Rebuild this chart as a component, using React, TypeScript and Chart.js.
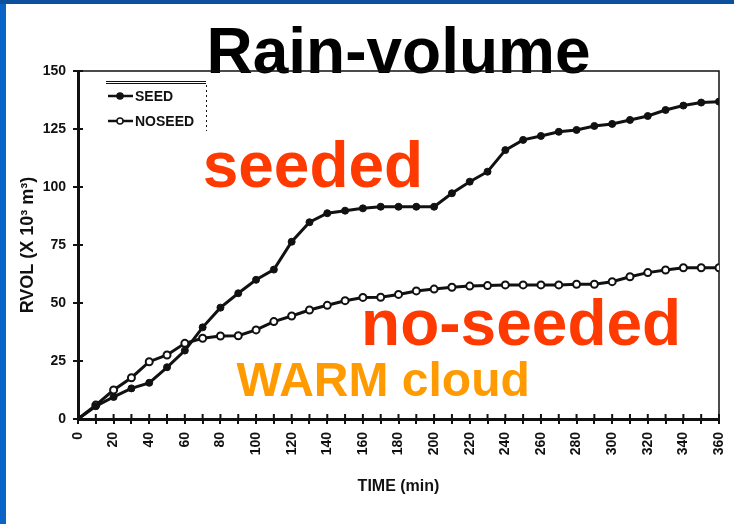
import React, { useEffect, useRef } from 'react';
import { Chart, registerables } from 'chart.js';

Chart.register(...registerables);

// ---- data ----
const TIMES = [0, 10, 20, 30, 40, 50, 60, 70, 80, 90, 100, 110, 120, 130, 140, 150, 160, 170, 180, 190, 200, 210, 220, 230, 240, 250, 260, 270, 280, 290, 300, 310, 320, 330, 340, 350, 360];
const SEED = [0, 5.5, 9.5, 13.2, 15.6, 22.3, 29.5, 39.5, 48, 54.2, 60, 64.4, 76.4, 84.8, 88.7, 89.8, 90.8, 91.5, 91.5, 91.5, 91.5, 97.3, 102.3, 106.6, 115.9, 120.3, 122, 123.8, 124.6, 126.3, 127.2, 128.9, 130.6, 133.2, 135.1, 136.4, 136.8];
const NOSEED = [0, 6, 12.5, 17.8, 24.7, 27.6, 32.6, 34.8, 35.8, 35.9, 38.4, 42, 44.4, 47, 49, 51, 52.4, 52.5, 53.7, 55.2, 56, 56.8, 57.3, 57.5, 57.8, 57.8, 57.8, 57.8, 58.1, 58.1, 59.2, 61.3, 63.1, 64.2, 65.2, 65.2, 65.2];
const SERIES_LABELS = ['SEED', 'NOSEED'];
const X_MIN = 0;
const X_MAX = 360;
const X_TICK_STEP = 10;
const X_LABEL_STEP = 20;
const Y_MIN = 0;
const Y_MAX = 150;
const Y_TICK_STEP = 25;
const TITLE = 'Rain-volume';
const X_TITLE = 'TIME (min)';
const Y_TITLE = 'RVOL (X 10³ m³)';
const NOTES = [
  { text: 'seeded', x: 70, y: 100, color: '#ff3a00', size: 64 },
  { text: 'no-seeded', x: 159, y: 32, color: '#ff3a00', size: 64 },
  { text: 'WARM cloud', x: 89, y: 10, color: '#ff9a00', size: 48 },
];

const FONT = '"Liberation Sans", Arial, Helvetica, sans-serif';
const INK = '#111111';

const decorPlugin = {
  id: 'decor',
  beforeDraw(chart: any) {
    const { ctx, width, height } = chart;
    ctx.save();
    ctx.fillStyle = '#ffffff';
    ctx.fillRect(0, 0, width, height);
    ctx.fillStyle = '#0c4f9c';
    ctx.fillRect(0, 0, width, 4);
    ctx.fillStyle = '#0a64c8';
    ctx.fillRect(0, 4, 6, height - 4);
    ctx.restore();
  },
  beforeDatasetsDraw(chart: any) {
    const { ctx, chartArea: a, scales } = chart;
    ctx.save();
    ctx.strokeStyle = INK;
    ctx.lineWidth = 1.5;
    ctx.beginPath();
    ctx.moveTo(a.left, a.top);
    ctx.lineTo(a.right, a.top);
    ctx.lineTo(a.right, a.bottom);
    ctx.stroke();
    // inner halves of the cross ticks
    ctx.lineWidth = 2;
    const xs = scales.x;
    const ys = scales.y;
    ctx.beginPath();
    xs.ticks.forEach((t: any) => {
      const px = xs.getPixelForValue(t.value);
      ctx.moveTo(px, a.bottom);
      ctx.lineTo(px, a.bottom - 5);
    });
    ys.ticks.forEach((t: any) => {
      const py = ys.getPixelForValue(t.value);
      ctx.moveTo(a.left, py);
      ctx.lineTo(a.left + 5, py);
    });
    ctx.stroke();
    ctx.restore();
  },
  afterDraw(chart: any) {
    const { ctx, chartArea: a, scales } = chart;
    ctx.save();
    // legend
    const lx = Math.round(a.left + 28);
    const ly = Math.round(a.top + 10);
    ctx.strokeStyle = INK;
    ctx.lineWidth = 1;
    ctx.beginPath();
    ctx.moveTo(lx, ly + 0.5);
    ctx.lineTo(lx + 100, ly + 0.5);
    ctx.moveTo(lx, ly + 2.5);
    ctx.lineTo(lx + 100, ly + 2.5);
    ctx.stroke();
    ctx.setLineDash([2, 3]);
    ctx.beginPath();
    ctx.moveTo(lx + 100.5, ly + 4);
    ctx.lineTo(lx + 100.5, ly + 50);
    ctx.stroke();
    ctx.setLineDash([]);
    chart.data.datasets.forEach((ds: any, i: number) => {
      const y = ly + 15 + i * 25;
      ctx.strokeStyle = ds.borderColor;
      ctx.lineWidth = 2.5;
      ctx.beginPath();
      ctx.moveTo(lx + 2, y);
      ctx.lineTo(lx + 27, y);
      ctx.stroke();
      ctx.beginPath();
      ctx.arc(lx + 14, y, 3, 0, Math.PI * 2);
      ctx.fillStyle = ds.pointBackgroundColor;
      ctx.fill();
      ctx.lineWidth = 1.5;
      ctx.strokeStyle = ds.pointBorderColor;
      ctx.stroke();
      ctx.fillStyle = INK;
      ctx.font = `bold 14px ${FONT}`;
      ctx.textAlign = 'left';
      ctx.textBaseline = 'middle';
      ctx.fillText(ds.label, lx + 29, y + 1);
    });
    // annotations
    NOTES.forEach((n) => {
      ctx.fillStyle = n.color;
      ctx.font = `bold ${n.size}px ${FONT}`;
      ctx.textAlign = 'left';
      ctx.textBaseline = 'alphabetic';
      ctx.fillText(n.text, scales.x.getPixelForValue(n.x), scales.y.getPixelForValue(n.y));
    });
    ctx.restore();
  },
};

export default function App() {
  const canvasRef = useRef<HTMLCanvasElement | null>(null);

  useEffect(() => {
    document.body.style.margin = '0';
    const canvas = canvasRef.current;
    if (!canvas) return;
    const chart = new Chart(canvas, {
      type: 'line',
      data: {
        datasets: [
          {
            label: SERIES_LABELS[0],
            data: TIMES.map((t, i) => ({ x: t, y: SEED[i] })),
            borderColor: INK,
            borderWidth: 3,
            pointRadius: 3.5,
            pointBackgroundColor: INK,
            pointBorderColor: INK,
            pointBorderWidth: 1,
            tension: 0,
          },
          {
            label: SERIES_LABELS[1],
            data: TIMES.map((t, i) => ({ x: t, y: NOSEED[i] })),
            borderColor: INK,
            borderWidth: 3,
            pointRadius: 3.5,
            pointBackgroundColor: '#ffffff',
            pointBorderColor: INK,
            pointBorderWidth: 2,
            tension: 0,
          },
        ],
      },
      options: {
        responsive: false,
        animation: false,
        devicePixelRatio: 1,
        layout: { padding: { left: 0, top: 0, right: 15, bottom: 0 } },
        plugins: {
          legend: { display: false },
          tooltip: { enabled: false },
          title: {
            display: true,
            text: TITLE,
            fullSize: false,
            color: '#000000',
            font: { family: FONT, size: 64, weight: 'bold', lineHeight: 0.484375 },
            padding: { top: 40, bottom: 0 },
          },
        },
        scales: {
          x: {
            type: 'linear',
            min: X_MIN,
            max: X_MAX,
            afterFit(s: any) {
              s.height = 105;
              s.paddingRight = 0;
              s.paddingLeft = 0;
            },
            border: { display: true, color: INK, width: 3 },
            grid: { drawOnChartArea: false, drawTicks: true, tickLength: 5, color: INK, lineWidth: 2 },
            ticks: {
              stepSize: X_TICK_STEP,
              autoSkip: false,
              minRotation: 90,
              maxRotation: 90,
              padding: 8,
              color: INK,
              font: { family: FONT, size: 14, weight: 'bold' },
              callback: (v: any) => (Number(v) % X_LABEL_STEP === 0 ? String(v) : ''),
            },
            title: {
              display: true,
              text: X_TITLE,
              color: INK,
              font: { family: FONT, size: 16, weight: 'bold' },
              padding: { top: 0, bottom: 28 },
            },
          },
          y: {
            min: Y_MIN,
            max: Y_MAX,
            afterFit(s: any) {
              s.width = 78;
            },
            border: { display: true, color: INK, width: 3 },
            grid: { drawOnChartArea: false, drawTicks: true, tickLength: 5, color: INK, lineWidth: 2 },
            ticks: {
              stepSize: Y_TICK_STEP,
              padding: 7,
              color: INK,
              font: { family: FONT, size: 14, weight: 'bold' },
            },
            title: {
              display: true,
              text: Y_TITLE,
              color: INK,
              font: { family: FONT, size: 18, weight: 'bold' },
              padding: { top: 17, bottom: 0 },
            },
          },
        },
      } as any,
      plugins: [decorPlugin],
    });
    return () => chart.destroy();
  }, []);

  return (
    <div style={{ width: 734, height: 524, position: 'relative', background: '#fff' }}>
      <canvas ref={canvasRef} width={734} height={524} style={{ display: 'block' }} />
    </div>
  );
}
